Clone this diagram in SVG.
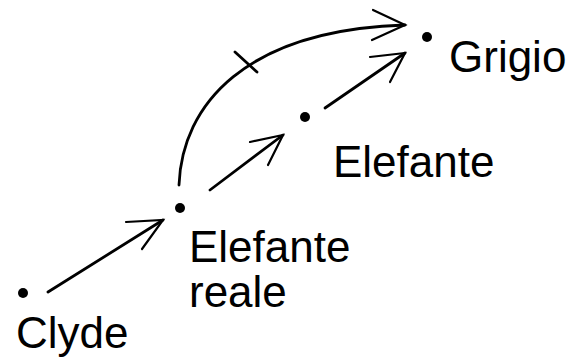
<svg xmlns="http://www.w3.org/2000/svg" width="569" height="358" viewBox="0 0 569 358">
  <style>
    .lbl { font-family: "Liberation Sans", Arial, sans-serif; font-size: 44px; fill: #000; }
    .dot { fill: #000; }
    .ln { fill: none; stroke: #000; stroke-width: 2.8; stroke-linecap: round; }
    .barb { fill: none; stroke: #000; stroke-width: 2.2; stroke-linecap: round; }
  </style>
  <rect width="569" height="358" fill="#fff"/>

  <g id="clyde">
    <circle class="dot" cx="23" cy="293" r="5"/>
    <text class="lbl" x="16" y="348">Clyde</text>
  </g>
  <g id="elefante-reale">
    <circle class="dot" cx="180" cy="208" r="5"/>
    <text class="lbl" x="189" y="262">Elefante</text>
    <text class="lbl" x="189" y="307">reale</text>
  </g>
  <g id="elefante">
    <circle class="dot" cx="305" cy="117" r="5"/>
    <text class="lbl" x="333" y="177">Elefante</text>
  </g>
  <g id="grigio">
    <circle class="dot" cx="427" cy="37" r="5"/>
    <text class="lbl" x="449" y="72">Grigio</text>
  </g>

  <g id="connectors">
    <!-- Clyde -> Elefante reale -->
    <line class="ln" x1="48" y1="292" x2="163" y2="220"/>
    <path class="barb" d="M126,222 L163,220 L142,249"/>
    <!-- Elefante reale -> Elefante -->
    <line class="ln" x1="210" y1="190" x2="283" y2="135"/>
    <path class="barb" d="M250,142 L283,135 L268,165"/>
    <!-- Elefante -> Grigio -->
    <line class="ln" x1="325" y1="108" x2="405" y2="53"/>
    <path class="barb" d="M370,57 L405,53 L390,82"/>
    <!-- Elefante reale -> Grigio (crossed, curved) -->
    <path class="ln" d="M179,185 C182,105 245,30 405,25"/>
    <path class="barb" d="M373,10 L405,25 L372,40"/>
    <line class="ln" x1="235" y1="52" x2="257" y2="72"/>
  </g>
</svg>
